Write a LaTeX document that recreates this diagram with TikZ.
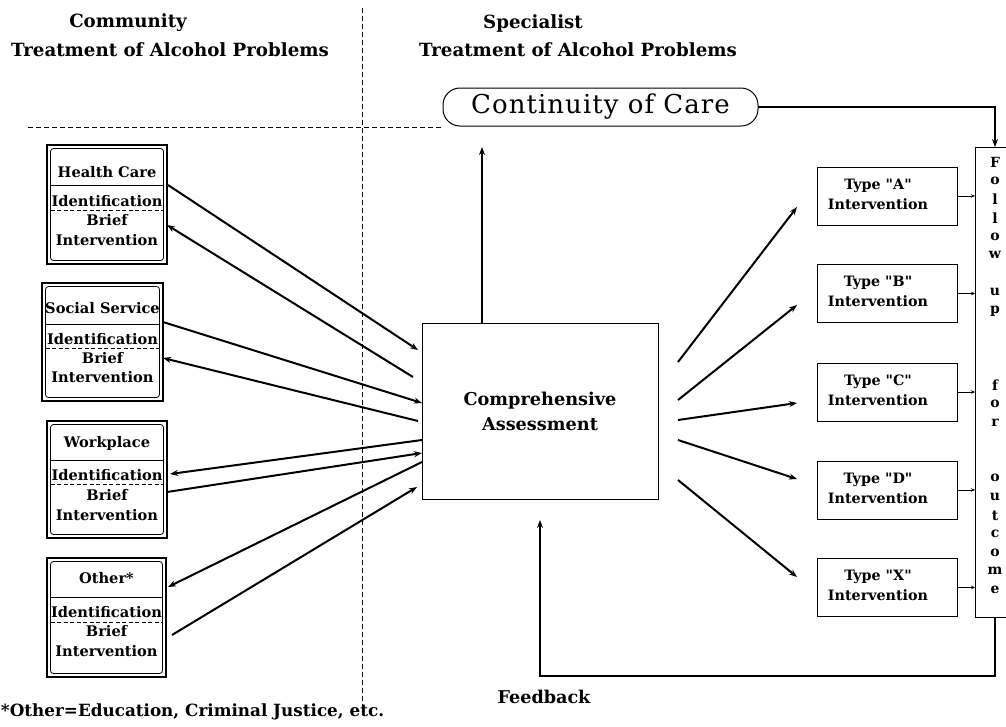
\documentclass[tikz,border=0pt]{standalone}
\usepackage{fontspec}
\setmainfont{DejaVu Serif}
\usetikzlibrary{arrows.meta}
\begin{document}
\begin{tikzpicture}[x=1pt,y=-1pt,
  every node/.style={inner sep=0pt, outer sep=0pt},
  arr/.style={line width=2pt, -{Stealth[length=8pt,width=6pt]}},
  sarr/.style={line width=1pt, -{Stealth[length=4pt,width=3.5pt]}},
  head/.style={font=\bfseries\fontsize{18.2}{21}\selectfont, align=center},
  ltxt/.style={font=\bfseries\fontsize{14.6}{16}\selectfont},
  lbox/.style={draw, line width=1.2pt, fill=white},
  tbox/.style={draw, line width=1pt, minimum width=140pt, minimum height=58pt},
  ttxt/.style={align=center, font=\bfseries\fontsize{14.3}{20}\selectfont},
  dline/.style={line width=0.8pt, dash pattern=on 5pt off 3pt}]
\useasboundingbox (0,0) rectangle (1006,726);
\clip (0,0) rectangle (1006,726);

% headers
\node[head] (h1) at (128,23) {Community};
\node[head] (h2) at (170,50) {Treatment of Alcohol Problems};
\node[head] (h3) at (533,23) {Specialist};
\node[head] (h4) at (578,50) {Treatment of Alcohol Problems};

% dashed separators
\coordinate (vt) at (362,8);
\coordinate (vb) at (362,712);
\coordinate (hl) at (28,127);
\coordinate (hr) at (442,127);
\draw[dline] (vt) -- (vb);
\draw[dline] (hl) -- (hr);

% continuity of care
\node[draw, line width=1pt, rounded corners=17pt, minimum width=315pt, minimum height=38pt,
      font=\addfontfeatures{LetterSpace=4}\fontsize{26}{29}\selectfont] (cc) at (600.5,107) {Continuity of Care};

% follow-up column
\node[draw, line width=1pt, anchor=north west, minimum width=60pt, minimum height=470pt] (fu) at (975,147) {};
\coordinate (fcol) at (995,107);
\foreach \r/\c in {0/F,1/o,2/l,3/l,4/o,5/w,7/u,8/p,12/f,13/o,14/r,17/o,18/u,19/t,20/c,21/o,22/m,23/e}
  \node[font=\bfseries\fontsize{14}{15}\selectfont] (fu\r) at (995,{162+18.6*\r}) {\c};
\draw[arr] (cc.east) -| (fu.north -| fcol);

% comprehensive assessment
\node[draw, line width=1pt, minimum width=236pt, minimum height=176pt, align=center,
      font=\bfseries\fontsize{17.7}{25}\selectfont] (ca) at (540,411) {Comprehensive\\Assessment};
\coordinate (upTip) at (482,147);
\draw[arr] (upTip |- ca.north) -- (upTip);

% feedback
\coordinate (fbTip) at (540,520);
\coordinate (fbCorner) at (540,676);
\draw[arr] (fcol |- fu.south) |- (fbCorner) -- (fbTip);
\node[font=\bfseries\fontsize{17.6}{20}\selectfont] (fb) at (544,697) {Feedback};

% type boxes
\foreach \n/\y/\t in {ta/196/A, tb/293.5/B, tc/392/C, td/490/D, tx/587.5/X}{
  \node[tbox] (\n) at (887,\y) {};
  \node[ttxt] (\n-t) at (878,{\y-2}) {Type \textquotedbl\t\textquotedbl\\Intervention};
  \draw[sarr] (\n.east) -- (\n.east -| fu.west);
}

% arrows assessment -> types
\coordinate (r1) at (678,362); \coordinate (e1) at (797,207);
\coordinate (r2) at (678,400); \coordinate (e2) at (797,305);
\coordinate (r3) at (678,420); \coordinate (e3) at (797,403);
\coordinate (r4) at (678,440); \coordinate (e4) at (797,479);
\coordinate (r5) at (678,480); \coordinate (e5) at (797,577);
\foreach \i in {1,...,5} \draw[arr] (r\i) -- (e\i);

% community boxes
\foreach \n/\xl/\xr/\yt/\yb/\yh/\ys/\yi/\yd/\ybr/\yiv/\t in {
  hc/47/167/145/264/172/185/201/210/220/240/Health Care,
  ss/42/163/283/401/308/324/339/348/358/377/Social Service,
  wp/47/167/421/538/443/460/475/484/495/515/Workplace,
  ot/47/166/558/677/578/597/612/622/631/651/Other*}{
  \node[lbox, minimum width={\xr-\xl}, minimum height={\yb-\yt}] (\n) at ({(\xl+\xr)/2},{(\yt+\yb)/2}) {};
  \draw[line width=0.8pt, rounded corners=3pt] ([shift={(3.5,3.5)}]\n.north west) rectangle ([shift={(-3.5,-3.5)}]\n.south east);
  \draw[line width=1pt] ({\xl+3.5},\ys) -- ({\xr-3.5},\ys);
  \draw[line width=0.8pt, dash pattern=on 4pt off 2.5pt] ({\xl+3.5},\yd) -- ({\xr-3.5},\yd);
  \node[ltxt] (\n-h) at ({(\xl+\xr)/2},\yh) {\t};
  \node[ltxt] (\n-i) at ({(\xl+\xr)/2},\yi) {Identification};
  \node[ltxt] (\n-b) at ({(\xl+\xr)/2},\ybr) {Brief};
  \node[ltxt] (\n-v) at ({(\xl+\xr)/2},\yiv) {Intervention};
}

% arrows community <-> assessment
\coordinate (hcO) at (168,185); \coordinate (caH1) at (418,350);
\coordinate (caH2) at (413,377); \coordinate (hcI) at (167,225);
\coordinate (ssO) at (163,322); \coordinate (caS1) at (422,403);
\coordinate (caS2) at (418,421); \coordinate (ssI) at (163,358);
\coordinate (caW1) at (422,440); \coordinate (wpI) at (170,474);
\coordinate (wpO) at (167,492); \coordinate (caW2) at (422,453);
\coordinate (caO1) at (422,462); \coordinate (otI) at (168,587);
\coordinate (otO) at (172,635); \coordinate (caO2) at (417,487);
\draw[arr] (hcO) -- (caH1);
\draw[arr] (caH2) -- (hcI);
\draw[arr] (ssO) -- (caS1);
\draw[arr] (caS2) -- (ssI);
\draw[arr] (caW1) -- (wpI);
\draw[arr] (wpO) -- (caW2);
\draw[arr] (caO1) -- (otI);
\draw[arr] (otO) -- (caO2);

% footnote
\node[anchor=west, font=\bfseries\fontsize{16.8}{19}\selectfont] (fn) at (1,712) {*Other=Education, Criminal Justice, etc.};
\end{tikzpicture}
\end{document}
